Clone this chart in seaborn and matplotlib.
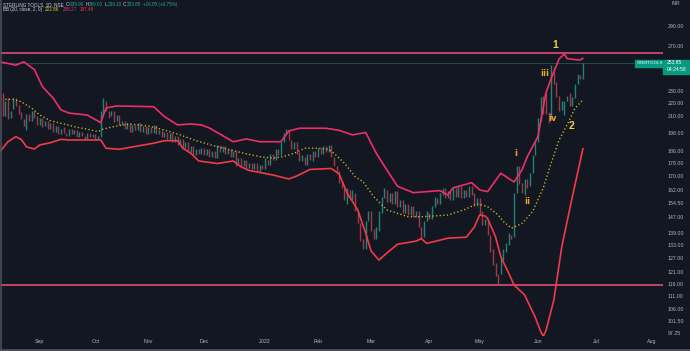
import matplotlib
matplotlib.use("Agg")
import numpy as np
import pandas as pd
import matplotlib.pyplot as plt
from matplotlib.ticker import NullLocator, FixedLocator, FixedFormatter
from matplotlib.lines import Line2D
from matplotlib.patches import Rectangle
import seaborn as sns

# daily candles (open / close)
opens = [228, 210, 224, 209, 216, 224, 219, 213, 208, 200,
         212, 207, 214, 210, 204, 209, 203, 207, 201, 205,
         199, 203, 197, 202, 198, 196, 201, 197, 200, 195,
         199, 196, 194, 198, 195, 197, 194, 195, 212, 222,
         214, 210, 214, 207, 211, 204, 207, 201, 205, 199,
         204, 200, 205, 199, 203, 197, 202, 198, 204, 197,
         200, 195, 199, 194, 198, 192, 196, 190, 194, 188,
         192, 185, 189, 183, 187, 184, 188, 183, 187, 182,
         186, 181, 190, 185, 189, 184, 187, 182, 186, 177,
         181, 176, 180, 175, 178, 174, 178, 173, 177, 174,
         180, 177, 184, 180, 187, 183, 192, 197, 200, 193,
         187, 192, 185, 179, 182, 177, 184, 179, 186, 182,
         188, 184, 189, 185, 190, 182, 176, 173, 167, 163,
         154, 162, 156, 160, 150, 144, 136, 131, 145, 150,
         141, 136, 140, 149, 157, 162, 155, 160, 154, 161,
         152, 156, 149, 154, 148, 153, 147, 150, 142, 137,
         145, 149, 146, 152, 157, 154, 159, 163, 157, 161,
         156, 163, 158, 164, 157, 162, 158, 164, 160, 153,
         157, 150, 143, 146, 138, 131, 125, 120, 120, 126,
         130, 133, 138, 137, 160, 176, 166, 159, 168, 164,
         172, 183, 192, 207, 226, 228, 213, 208, 250, 237,
         226, 215, 211, 222, 228, 218, 224, 236, 243, 239.9]
closes = [210, 222, 208, 214, 224, 218, 212, 208, 203, 212,
          207, 214, 209, 204, 209, 202, 207, 201, 205, 199,
          203, 197, 201, 198, 196, 201, 197, 200, 195, 199,
          196, 194, 198, 195, 197, 194, 196, 214, 224, 214,
          209, 214, 206, 211, 204, 207, 201, 205, 199, 204,
          200, 205, 199, 203, 197, 202, 198, 204, 197, 200,
          195, 199, 194, 198, 192, 196, 190, 194, 188, 192,
          185, 189, 183, 187, 184, 188, 183, 187, 182, 186,
          181, 190, 185, 189, 184, 187, 182, 186, 176, 181,
          176, 180, 175, 178, 174, 178, 173, 177, 174, 181,
          177, 184, 180, 187, 183, 192, 198, 201, 193, 187,
          192, 184, 179, 183, 177, 184, 180, 186, 182, 188,
          184, 189, 185, 190, 182, 176, 172, 166, 163, 156,
          163, 157, 162, 150, 144, 135, 131, 145, 150, 140,
          136, 142, 150, 158, 163, 155, 160, 154, 161, 152,
          156, 149, 154, 148, 153, 147, 150, 142, 136, 145,
          150, 146, 153, 158, 154, 160, 163, 157, 161, 156,
          163, 158, 164, 157, 162, 158, 164, 159, 153, 157,
          148, 143, 146, 138, 130, 124, 119, 116, 127, 131,
          134, 139, 136, 160, 176, 165, 160, 168, 163, 172,
          183, 192, 209, 225, 212, 212, 205, 252, 236, 225,
          214, 222, 222, 226, 218, 225, 236, 244, 239.9, 253.85]

# Bollinger bands, sampled along the curves
upper_idx = [-1, 5, 8, 12, 15, 19, 22, 25, 32, 37, 39, 43, 57, 61, 66, 71, 75, 78,
             87, 92, 97, 105, 108, 112, 122, 127, 132, 137, 141, 145, 149, 155, 165,
             168, 170, 177, 180, 183, 188, 193, 196, 198, 202, 205, 207, 210, 212,
             213, 216, 218, 219]
upper_val = [255, 252, 255, 248, 233.5, 224.3, 215, 212.6, 211, 205.5, 216.4, 218,
             217.4, 210, 203.8, 204.5, 203.8, 201.6, 192, 193.9, 192, 192, 199.5,
             201.4, 201.4, 199.9, 196.7, 198.4, 184.3, 173.7, 163.9, 160.2, 161.4,
             158.9, 163, 166, 161.8, 160.8, 171.7, 166.4, 173.7, 182.1, 195.5, 228.2,
             240.5, 257.7, 262.2, 257.9, 257, 256.7, 258.27]
lower_idx = [-1, 2, 5, 7, 9, 12, 14, 18, 22, 25, 37, 39, 44, 51, 57, 61, 66, 68, 71,
             74, 81, 87, 90, 93, 102, 108, 111, 116, 124, 127, 130, 134, 137, 139, 142,
             145, 149, 156, 158, 160, 168, 175, 178, 180, 182, 183, 186, 188, 191, 193,
             197, 198, 201, 203, 204, 205, 208, 211, 215, 219]
lower_val = [185.4, 192, 195.5, 193.6, 188.5, 187.1, 189.8, 191.3, 193.6, 193.2, 193.2,
             187.6, 186.9, 189.1, 191, 192.7, 192.7, 187.6, 184.3, 179.3, 177.7, 179.3,
             175.6, 173.4, 170.6, 168.2, 170, 174, 174.6, 171.2, 160, 150.7, 138.8,
             130.3, 126.1, 129.3, 133.4, 134.9, 136.1, 133.8, 136.3, 136.8, 141.8, 148,
             147.5, 146.2, 137, 127.6, 120.3, 115.4, 111.4, 109.2, 102.9, 97.9, 96.3,
             98, 109.4, 132.2, 158, 187.45]
mid_idx = [1, 4, 7, 11, 14, 18, 23, 28, 32, 36, 38, 43, 48, 55, 61, 67, 73, 80, 86, 92,
           97, 102, 106, 110, 114, 119, 123, 125, 129, 133, 136, 140, 145, 153, 158, 163,
           168, 174, 179, 183, 187, 189, 192, 196, 200, 204, 207, 210, 213, 216, 219]
mid_val = [223.2, 223.2, 221.3, 216.2, 211.1, 206.9, 204.5, 202.1, 200.7, 199, 200.9,
           203, 204.5, 203, 200.2, 196.7, 192.7, 189.1, 186.5, 183.9, 182.1, 181.1,
           182.1, 184.3, 187.6, 187.6, 186.9, 184.3, 177.9, 169.6, 166.6, 158, 150.7,
           147.1, 147.1, 147.5, 148, 150.7, 154, 152.5, 148, 144.6, 141.2, 143.6, 149.8,
           162.8, 177.9, 193.2, 203.8, 216.2, 222.86]

resistance = 263.0
support = 115.5
last_price = 253.85

price_ticks = [290, 270, 230, 220, 210, 198, 186, 178, 170, 162, 154.5, 147, 139,
               133, 127, 121, 116, 111, 106, 101.5, 97.25]
month_pos = [14, 35, 55, 76, 99, 119, 139, 161, 180, 202, 224, 245]
month_labels = ["Sep", "Oct", "Nov", "Dec", "2022", "Feb", "Mar", "Apr", "May",
                "Jun", "Jul", "Aug"]

# elliott wave labels: text, bar index, price
wave_big = [("1", 208.4, 271), ("2", 214.7, 203)]
wave_small = [("iii", 204.7, 245), ("iv", 207.6, 208.7), ("i", 193.6, 184.3),
              ("ii", 198.1, 155.5)]

BG = "#131722"
TXT = "#b2b5be"

sns.set_theme(style="dark", rc={"axes.facecolor": BG, "figure.facecolor": BG})
plt.rcParams['font.family'] = ['Liberation Sans', 'DejaVu Sans']

fig = plt.figure(figsize=(6.9, 3.51), dpi=100)
ax = fig.add_axes([0, 15 / 351, 663 / 690, 336 / 351])
ax.set_facecolor(BG)
for s in ax.spines.values():
    s.set_visible(False)

df = pd.DataFrame({"open": opens, "close": closes})
df["idx"] = np.arange(len(df))
up = df["close"] >= df["open"]
lo = df[["open", "close"]].min(axis=1)
hi = df[["open", "close"]].max(axis=1)
ax.vlines(df["idx"], lo, hi, colors=np.where(up, "#20847a", "#a23947"),
          linewidth=1.0, zorder=2)

# horizontal levels
ax.axhline(resistance, color="#c2446d", lw=1.4, zorder=3)
ax.axhline(support, color="#c2446d", lw=1.4, zorder=3)
ax.axhline(last_price, color="#1d4f4c", lw=0.7, zorder=1)

sns.lineplot(x=upper_idx, y=upper_val, ax=ax, color="#ee2f67", linewidth=1.2,
             sort=False, estimator=None, zorder=4)
sns.lineplot(x=lower_idx, y=lower_val, ax=ax, color="#f23a48", linewidth=1.2,
             sort=False, estimator=None, zorder=4)
sns.lineplot(x=mid_idx, y=mid_val, ax=ax, color="#cdbb26", linewidth=1.0,
             linestyle=(0, (0.9, 1.7)), sort=False, estimator=None, zorder=4)

for t, x, y in wave_big:
    ax.text(x, y, t, color="#f2d13a", fontsize=7.5, fontweight="bold",
            ha="center", va="center", zorder=5)
for t, x, y in wave_small:
    ax.text(x, y, t, color="#f5a623", fontsize=6, family="DejaVu Sans",
            fontweight="bold", ha="center", va="center", zorder=5)

ax.set_yscale("log")
ax.set_ylim(96.3, 317.6)
ax.set_xlim(-1, 249.2)
ax.yaxis.tick_right()
ax.yaxis.set_major_locator(FixedLocator(price_ticks))
ax.yaxis.set_major_formatter(FixedFormatter([f"{v:.2f}" for v in price_ticks]))
ax.yaxis.set_minor_locator(NullLocator())
ax.set_xticks(month_pos)
ax.set_xticklabels(month_labels)
ax.tick_params(axis="y", length=0, pad=3.5, labelsize=3.8, labelcolor=TXT)
ax.tick_params(axis="x", length=0, pad=2, labelsize=3.8, labelcolor=TXT)
ax.set_xlabel("")
ax.set_ylabel("")
ax.grid(False)

renderer = fig.canvas.get_renderer()


def ftxt(x, y, s, color, size=3.6, **kw):
    t = fig.text(x / 690, 1 - y / 351, s, color=color, va="center", ha="left",
                 fontsize=size, **kw)
    return t.get_window_extent(renderer).x1


def row(y, parts, x=3, size=3.3):
    # parts laid out left to right: (text, color, gap after)
    for s, c, gap in parts:
        x = ftxt(x, y, s, c, size=size) + gap


# header
GR = "#d1d4dc"
GN = "#26a69a"
row(4.5, [("STERLING TOOLS, 1D, NSE", GR, 2), ("O", GR, 0.3), ("239.90", GN, 1.5),
          ("H", GR, 0.3), ("260.00", GN, 1.5), ("L", GR, 0.3), ("239.10", GN, 1.5),
          ("C", GR, 0.3), ("253.85", GN, 2), ("+16.05 (+6.75%)", GN, 0)])
row(9.8, [("BB (20, close, 2, 0)", GR, 3), ("222.86", "#e0c92a", 3),
          ("258.27", "#e0356a", 3), ("187.45", "#f23645", 0)])
ftxt(671, 3.5, "INR", TXT)

# price label boxes
fig.patches.append(Rectangle((635 / 690, 1 - 66.5 / 351), 27 / 690, 7 / 351,
                             transform=fig.transFigure, color="#089981", zorder=6))
ftxt(636.5, 63, "STERTOOLS", "white", size=3.2, zorder=7)
fig.patches.append(Rectangle((663 / 690, 1 - 73.5 / 351), 26 / 690, 14 / 351,
                             transform=fig.transFigure, color="#089981", zorder=6))
ftxt(667, 62.5, "253.85", "white", zorder=7)
ftxt(667, 69.5, "04:24:58", "white", zorder=7)

# window frame
fig.add_artist(Line2D([0.5 / 690, 0.5 / 690], [0, 1], color="#4a4e5a", lw=1.2))
fig.add_artist(Line2D([0, 1], [1.5 / 351, 1.5 / 351], color="#4a4e5a", lw=2))

fig.savefig("out.png", dpi=100, facecolor=BG)
